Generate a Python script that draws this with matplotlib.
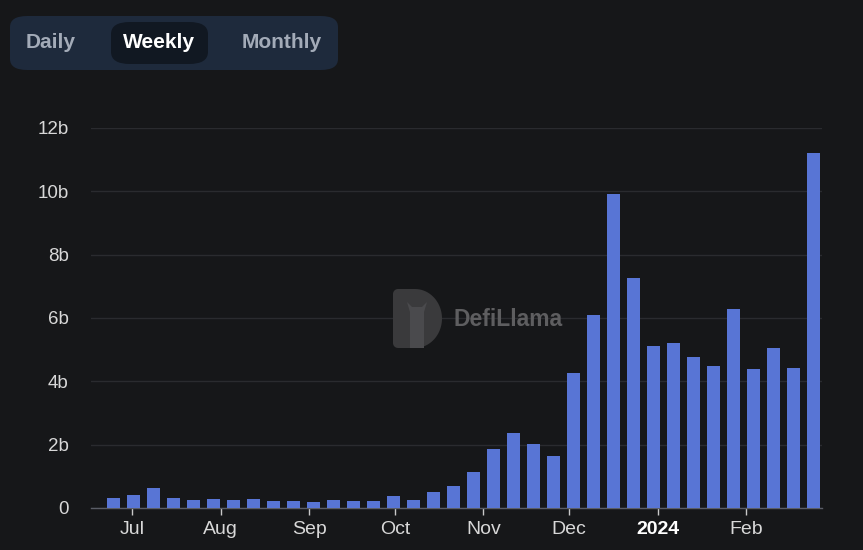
import numpy as np
import pandas as pd
import matplotlib
matplotlib.use("Agg")
import matplotlib.pyplot as plt
import matplotlib.dates as mdates
from matplotlib.patches import FancyBboxPatch, Polygon

# weekly volume, billions
weeks = pd.date_range("2023-06-25", periods=36, freq="7D")
volume = [0.33, 0.40, 0.63, 0.33, 0.24, 0.30, 0.25, 0.30, 0.21, 0.21,
          0.19, 0.26, 0.22, 0.21, 0.39, 0.25, 0.49, 0.70, 1.14, 1.86,
          2.37, 2.02, 1.63, 4.26, 6.09, 9.91, 7.25, 5.12, 5.22, 4.77,
          4.47, 6.28, 4.39, 5.06, 4.41, 11.22]
ytick_vals = [0, 2, 4, 6, 8, 10, 12]
ytick_labels = ["0", "2b", "4b", "6b", "8b", "10b", "12b"]
month_ticks = pd.to_datetime(["2023-07-01", "2023-08-01", "2023-09-01", "2023-10-01",
                              "2023-11-01", "2023-12-01", "2024-01-01", "2024-02-01"])
month_labels = ["Jul", "Aug", "Sep", "Oct", "Nov", "Dec", "2024", "Feb"]
toggle_labels = ["Daily", "Weekly", "Monthly"]

bg = "#161719"
bar_color = "#5875d5"
plt.rcParams["font.family"] = ["Liberation Sans", "DejaVu Sans"]

fig = plt.figure(figsize=(8.63, 5.5), dpi=100, facecolor=bg)
ax = fig.add_axes([91 / 863, 42 / 550, (822 - 91) / 863, (508 - 128) / 550])
ax.set_facecolor(bg)

x = mdates.date2num(weeks) - 0.6
ax.bar(x, volume, width=4.6, color=bar_color, zorder=3)

ax.set_ylim(0, 12)
ax.set_yticks(ytick_vals)
ax.set_yticklabels(ytick_labels)
ax.grid(axis="y", color="#2a2b2f", linewidth=1, zorder=0)
ax.tick_params(axis="y", length=0, pad=16, colors="#d8d8d8", labelsize=13.5)

ax.set_xlim(mdates.date2num(pd.Timestamp("2023-06-16")) + 0.65,
            mdates.date2num(pd.Timestamp("2024-02-27")) + 0.5)
ax.set_xticks(mdates.date2num(month_ticks))
ax.set_xticklabels(month_labels)
ax.tick_params(axis="x", length=5, width=1, color="#c8c8c8", colors="#d8d8d8",
               labelsize=14, pad=4)
for lbl in ax.get_xticklabels():
    if lbl.get_text() == "2024":
        lbl.set_fontweight("bold")
        lbl.set_color("white")

for s in ["top", "right", "left"]:
    ax.spines[s].set_visible(False)
ax.spines["bottom"].set_color("#5a5d66")
ax.spines["bottom"].set_linewidth(1)

# watermark logo (D shape) drawn in a small pixel-sized axes
lax = fig.add_axes([393 / 863, (550 - 348) / 550, 49 / 863, 59 / 550])
lax.set_xlim(0, 49)
lax.set_ylim(0, 59)
lax.axis("off")
t = np.linspace(-np.pi / 2, np.pi / 2, 40)
arc = np.column_stack([22 + 27 * np.cos(t), 29.5 + 29.5 * np.sin(t)])
r = 5
a = np.linspace(0, np.pi / 2, 8)
corner_top = np.column_stack([r - r * np.sin(a), 59 - r + r * np.cos(a)])
corner_bot = np.column_stack([r - r * np.cos(a), r - r * np.sin(a)])
dshape = np.vstack([corner_bot, arc, corner_top])
lax.add_patch(Polygon(dshape, closed=True, facecolor="#3a3a3c", edgecolor="none"))
lax.add_patch(Polygon([[17, 0], [17, 36], [14, 46], [19, 41], [29, 41], [34, 46],
                       [31, 36], [31, 0]], closed=True, facecolor="#4a4a4d",
                      edgecolor="none"))
fig.text(453 / 863, 1 - 320 / 550, "DefiLlama", color="#5e5e60", fontsize=16.5,
         fontweight="bold", va="center", ha="left", zorder=5)

# toggle
fig.patches.append(FancyBboxPatch((10 / 863, 1 - 70 / 550), 328 / 863, 54 / 550,
                                  boxstyle="round,pad=0,rounding_size=0.02",
                                  transform=fig.transFigure, facecolor="#1e2a3c",
                                  edgecolor="none"))
fig.patches.append(FancyBboxPatch((111 / 863, 1 - 64 / 550), 97 / 863, 42 / 550,
                                  boxstyle="round,pad=0,rounding_size=0.022",
                                  transform=fig.transFigure, facecolor="#111822",
                                  edgecolor="none"))
for lbl, cx in zip(toggle_labels, [51, 159, 282]):
    sel = lbl == "Weekly"
    fig.text(cx / 863, 1 - 43 / 550, lbl, ha="center", va="center", fontsize=15,
             fontweight="bold",
             color="white" if sel else "#a3abb8")

fig.savefig("out.png", dpi=100, facecolor=bg)
